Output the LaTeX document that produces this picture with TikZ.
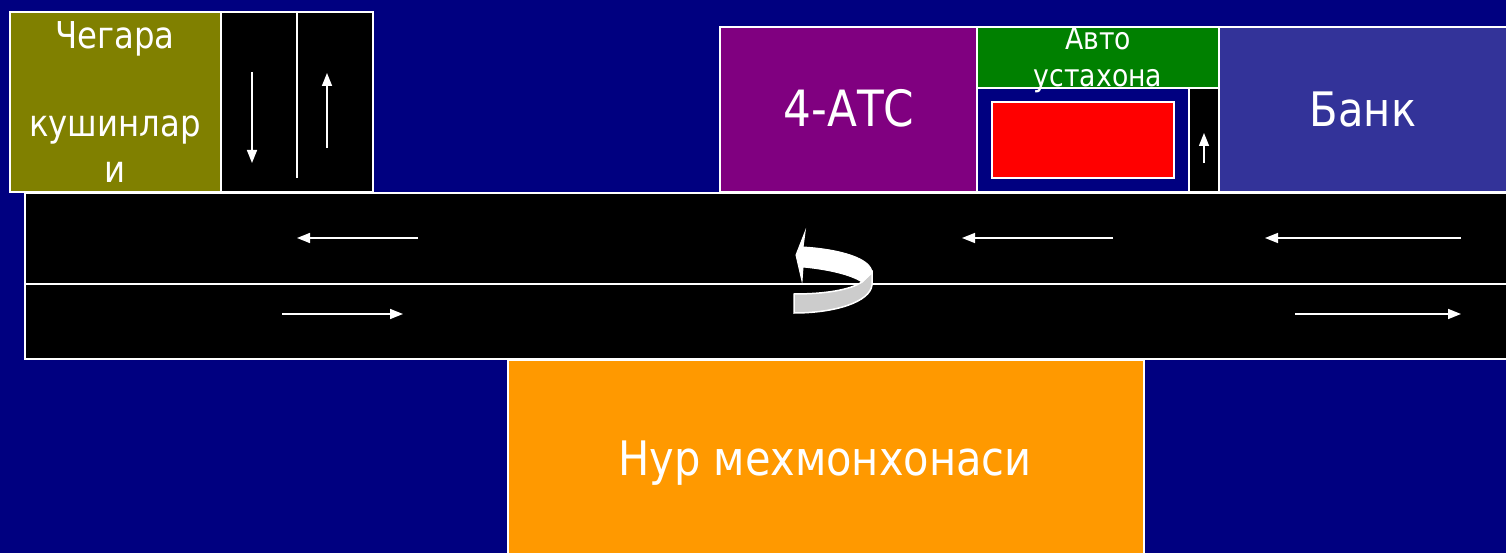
\documentclass[tikz,border=0pt]{standalone}
\usepackage{fontspec}
\setmainfont[FakeStretch=0.875]{DejaVu Sans}
\usetikzlibrary{arrows.meta}
\definecolor{bgnavy}{HTML}{000080}
\definecolor{chegara}{HTML}{808000}
\definecolor{atc}{HTML}{800080}
\definecolor{avto}{HTML}{008000}
\definecolor{bank}{HTML}{333399}
\definecolor{nur}{HTML}{FF9900}
\definecolor{bandgray}{HTML}{CCCCCC}
\tikzset{
  plot/.style={draw=white,line width=2pt},
  lane/.style={white,line width=1.5pt,-{Triangle[length=13pt,width=10pt]}},
  title/.style={white,align=center,inner sep=0pt,anchor=base},
}
\begin{document}
\begin{tikzpicture}[x=1pt,y=-1pt]
\useasboundingbox (0,0) rectangle (1506,553);
\fill[bgnavy] (0,0) rectangle (1506,553);
\clip (0,0) rectangle (1506,553);

% Main road
\draw[plot,fill=black] (25,193) rectangle (1520,359);
\draw[plot] (25,284) -- (1520,284);
\draw[lane] (418,238) -- (297,238);
\draw[lane] (1113,238) -- (962,238);
\draw[lane] (1461,238) -- (1265,238);
\draw[lane] (282,314) -- (403,314);
\draw[lane] (1295,314) -- (1461,314);

% Side road
\draw[plot,fill=black] (221,12) rectangle (373,192);
\draw[plot] (297,12) -- (297,178);
\draw[lane] (252,72) -- (252,163);
\draw[lane] (327,148) -- (327,73);

% Buildings
\draw[plot,fill=chegara] (10,12) rectangle (221,192);
\draw[plot,fill=atc] (720,27) rectangle (977,192);
\draw[plot,fill=avto] (977,27) rectangle (1219,88);
\draw[plot,fill=bgnavy] (977,88) rectangle (1189,192);
\draw[plot,fill=red] (992,102) rectangle (1174,178);
\draw[plot,fill=black] (1189,88) rectangle (1219,192);
\draw[lane] (1204,163) -- (1204,133);
\draw[plot,fill=bank] (1219,27) rectangle (1520,192);
\draw[plot,fill=nur] (508,360) rectangle (1144,570);

% U-turn
\draw[white,line width=1.5pt,fill=bandgray] (872,272) -- (872,285)
  .. controls (870,302) and (835,313) .. (794,313) -- (794,294)
  .. controls (825,294) and (850,290) .. (862,282) -- cycle;
\draw[white,line width=1pt,fill=white] (796,255) -- (805,232) -- (803,247)
  .. controls (838,249) and (872,258) .. (872,273) -- (862,282)
  .. controls (850,274) and (825,269) .. (803,267) -- (802,281) -- cycle;

% Labels
\node[title,font=\fontsize{37}{37}\selectfont] (chegaraA) at (115,49) {Чегара};
\node[title,font=\fontsize{37}{37}\selectfont] (chegaraB) at (115,137) {кушинлар};
\node[title,font=\fontsize{37}{37}\selectfont] (chegaraC) at (115,183) {и};
\node[title,font=\fontsize{50}{50}\selectfont] (atcL) at (849,127) {4-АТС};
\node[title,font=\fontsize{30.5}{30.5}\selectfont] (avtoA) at (1098,50) {Авто};
\node[title,font=\fontsize{30.5}{30.5}\selectfont] (avtoB) at (1098,87) {устахона};
\node[title,font=\fontsize{47.5}{47.5}\selectfont] (bankL) at (1363,127) {Банк};
\node[title,font=\fontsize{47.5}{47.5}\selectfont] (nurL) at (825,475) {Нур мехмонхонаси};
\end{tikzpicture}
\end{document}
